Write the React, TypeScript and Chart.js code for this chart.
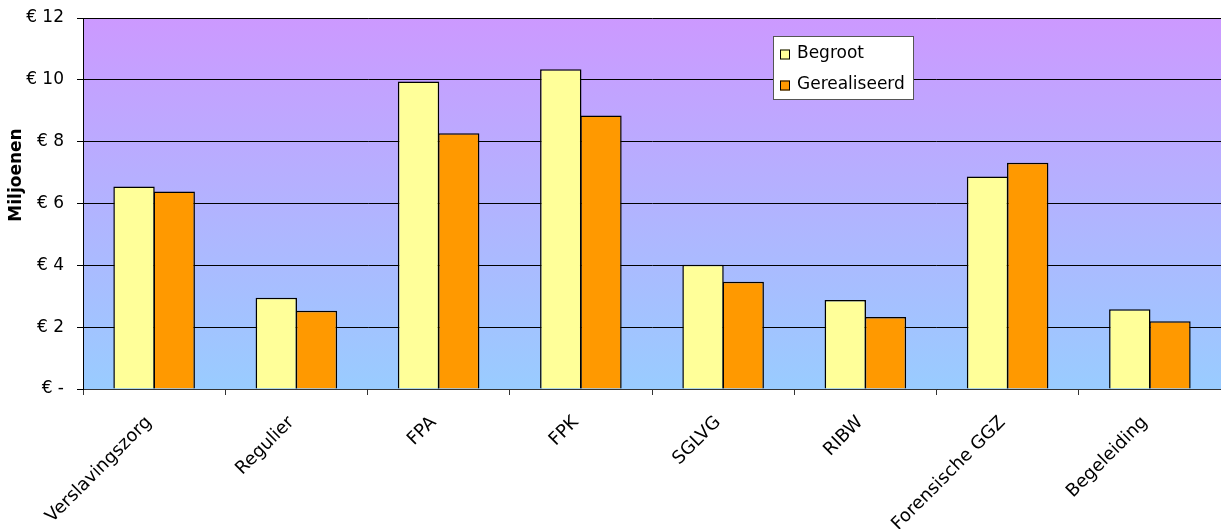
import React, { useEffect, useRef } from "react";
import { Chart, registerables } from "chart.js";

Chart.register(...registerables);

const categories = ["Verslavingszorg", "Regulier", "FPA", "FPK", "SGLVG", "RIBW", "Forensische GGZ", "Begeleiding"];
const begroot = [6.55, 2.95, 9.95, 10.34, 4.02, 2.88, 6.87, 2.58];
const gerealiseerd = [6.39, 2.53, 8.27, 8.85, 3.47, 2.33, 7.32, 2.19];
const seriesLabels = ["Begroot", "Gerealiseerd"];
const yTitle = "Miljoenen";
const yMax = 12;
const yStep = 2;

const FONT = "'DejaVu Sans', sans-serif";

const bgPlugin = {
  id: "bgGradient",
  beforeDraw(chart: any) {
    const { ctx, chartArea } = chart;
    if (!chartArea) return;
    const g = ctx.createLinearGradient(0, chartArea.top, 0, chartArea.bottom);
    g.addColorStop(0, "#CC99FF");
    g.addColorStop(1, "#99CCFF");
    ctx.save();
    ctx.fillStyle = g;
    ctx.fillRect(chartArea.left, chartArea.top, chartArea.right - chartArea.left, chartArea.bottom - chartArea.top);
    ctx.restore();
  },
};

const legendPlugin = {
  id: "boxLegend",
  afterDraw(chart: any) {
    const { ctx } = chart;
    ctx.save();
    const x = 773, y = 36, w = 140, h = 63;
    ctx.fillStyle = "#FFFFFF";
    ctx.fillRect(x, y, w, h);
    ctx.strokeStyle = "#555555";
    ctx.lineWidth = 1;
    ctx.strokeRect(x + 0.5, y + 0.5, w, h);
    chart.data.datasets.forEach((ds: any, i: number) => {
      const cy = 54 + i * 31;
      ctx.fillStyle = ds.backgroundColor;
      ctx.fillRect(780, cy - 4.5, 10, 10);
      ctx.strokeStyle = "#000";
      ctx.strokeRect(780.5, cy - 4, 9, 9);
      ctx.fillStyle = "#000";
      ctx.font = `17px ${FONT}`;
      ctx.textBaseline = "middle";
      ctx.textAlign = "left";
      ctx.fillText(ds.label, 797, cy);
    });
    ctx.restore();
  },
};

const yTitlePlugin = {
  id: "yTitle",
  afterDraw(chart: any) {
    const { ctx } = chart;
    ctx.save();
    ctx.translate(17, 175);
    ctx.rotate(-Math.PI / 2);
    ctx.font = `bold 17px ${FONT}`;
    ctx.fillStyle = "#000";
    ctx.textAlign = "center";
    ctx.textBaseline = "middle";
    ctx.fillText(yTitle, 0, 0);
    ctx.restore();
  },
};

export default function App() {
  const ref = useRef<HTMLCanvasElement | null>(null);
  useEffect(() => {
    if (!ref.current) return;
    const chart = new Chart(ref.current, {
      type: "bar",
      data: {
        labels: categories,
        datasets: [
          {
            label: seriesLabels[0],
            data: begroot,
            backgroundColor: "#FFFF99",
            borderColor: "#000000",
            borderWidth: 1.5,
            barPercentage: 1.03,
            categoryPercentage: 0.565,
          },
          {
            label: seriesLabels[1],
            data: gerealiseerd,
            backgroundColor: "#FF9900",
            borderColor: "#000000",
            borderWidth: 1.5,
            barPercentage: 1.03,
            categoryPercentage: 0.565,
          },
        ],
      },
      options: {
        responsive: false,
        animation: false,
        layout: { padding: { top: 18, right: 0, left: 0, bottom: 0 } },
        plugins: {
          legend: { display: false },
          tooltip: { enabled: false },
        },
        scales: {
          x: {
            offset: true,
            grid: {
              offset: true,
              drawOnChartArea: false,
              drawTicks: true,
              tickLength: 6,
              color: "#333333",
            },
            border: { color: "#333333", width: 1 },
            ticks: {
              minRotation: 45,
              maxRotation: 45,
              padding: 17,
              labelOffset: -5,
              color: "#000",
              font: { family: FONT, size: 18 },
              autoSkip: false,
            },
            afterFit(scale: any) {
              scale.height = 140;
              scale.paddingLeft = 0;
              scale.paddingRight = 0;
            },
          },
          y: {
            min: 0,
            max: yMax,
            ticks: {
              stepSize: yStep,
              padding: 13,
              color: "#000",
              font: { family: FONT, size: 17 },
              callback: (v: any) => (Number(v) === 0 ? "€ -" : "€ " + v),
            },
            grid: {
              color: "#000000",
              lineWidth: 1,
              tickLength: 6,
            },
            border: { color: "#000000", width: 1 },
            afterFit(scale: any) {
              scale.width = 83;
              scale.paddingTop = 0;
              scale.paddingBottom = 0;
            },
          },
        },
      },
      plugins: [bgPlugin, legendPlugin, yTitlePlugin],
    });
    return () => chart.destroy();
  }, []);
  return (
    <div style={{ position: "absolute", left: 0, top: 0, width: 1221, height: 529, background: "#fff" }}>
      <canvas ref={ref} width={1221} height={529} />
    </div>
  );
}
